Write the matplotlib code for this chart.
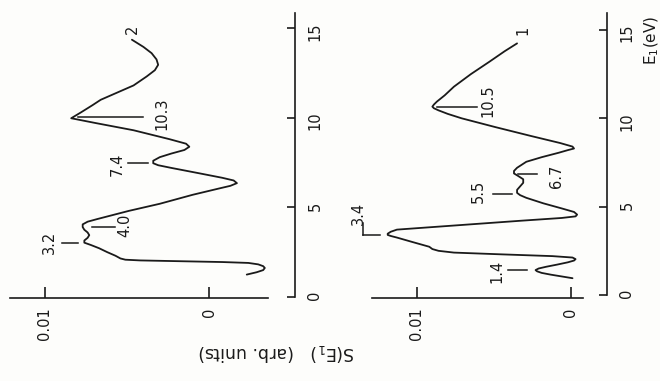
import numpy as np
import matplotlib
matplotlib.use("Agg")
import matplotlib.pyplot as plt

# The scanned figure is rotated 90 deg CCW: energy runs up the page,
# S(E1) runs to the left. Data are (E, S) pairs.

# curve 2 (left panel in the picture)
e_2 = [1.25, 1.38, 1.5, 1.62, 1.72, 1.82, 1.9, 1.95, 2.0, 2.04, 2.08, 2.15,
       2.3, 2.5, 2.72, 2.9, 3.03, 3.15, 3.3, 3.45, 3.6, 3.75, 3.9, 4.05,
       4.2, 4.35, 4.8, 5.2, 5.7, 6.05, 6.2, 6.35, 6.5, 6.65, 6.9, 7.2, 7.35,
       7.46, 7.6, 7.8, 8.0, 8.2, 8.38, 8.55, 8.8, 9.3, 9.7, 9.88, 9.97,
       10.08, 10.3, 10.7, 11.0, 11.8, 12.3, 12.65, 12.95, 13.25, 13.6,
       13.95, 14.35]
s_2 = [-0.0023, -0.0029, -0.0033, -0.0034, -0.0033, -0.0030, -0.0024,
       -0.0008, 0.0020, 0.0042, 0.0051, 0.0054, 0.0057, 0.0062, 0.0067,
       0.0072, 0.0076, 0.0076, 0.0074, 0.0073, 0.0074, 0.0076, 0.0077,
       0.0077, 0.0074, 0.0068, 0.0049, 0.0030, 0.0010, -0.0006, -0.0013,
       -0.0017, -0.0015, -0.0008, 0.0006, 0.0023, 0.0031, 0.0034, 0.0034,
       0.0030, 0.0023, 0.0015, 0.0012, 0.0014, 0.0024, 0.0046, 0.0069,
       0.0079, 0.0084, 0.0082, 0.0078, 0.0071, 0.0066, 0.0046, 0.0038,
       0.0033, 0.0031, 0.0032, 0.0035, 0.0040, 0.0047]

# curve 1 (right panel in the picture)
e_1 = [0.95, 1.05, 1.15, 1.25, 1.34, 1.41, 1.5, 1.6, 1.72, 1.85, 1.95,
       2.03, 2.12, 2.2, 2.3, 2.4, 2.5, 2.6, 2.73, 3.0, 3.25, 3.34, 3.4,
       3.47, 3.58, 3.7, 3.95, 4.2, 4.36, 4.45, 4.55, 4.7, 4.9, 5.19, 5.5,
       5.65, 5.78, 5.95, 6.15, 6.35, 6.55, 6.72, 6.88, 7.02, 7.2, 7.54,
       7.8, 8.05, 8.2, 8.29, 8.4, 8.6, 9.0, 9.5, 10.0, 10.25, 10.45, 10.57,
       10.66, 10.78, 10.95, 11.3, 11.79, 12.5, 13.2, 13.8, 14.24]
s_1 = [-0.0001, 0.0006, 0.0013, 0.0019, 0.0022, 0.0023, 0.0021, 0.0016,
       0.0009, 0.0002, -0.0002, -0.0003, -0.0001, 0.0012, 0.0045, 0.0076,
       0.0086, 0.0090, 0.0092, 0.0103, 0.0113, 0.0117, 0.0119, 0.0119,
       0.0117, 0.0113, 0.0073, 0.0033, 0.0006, -0.0003, -0.0004, -0.0002,
       0.0006, 0.0018, 0.0029, 0.0033, 0.0035, 0.0035, 0.0033, 0.0031,
       0.0031, 0.0034, 0.0037, 0.0037, 0.0035, 0.0029, 0.0019, 0.0008,
       0.0002, -0.0002, -0.0001, 0.0007, 0.0026, 0.0049, 0.0071, 0.0080,
       0.0086, 0.0089, 0.0090, 0.0089, 0.0087, 0.0082, 0.0076, 0.0065,
       0.0053, 0.0043, 0.0035]

# peak markers: label, energy of the marker, S extent of the marker line
peaks_2 = ["3.2", "4.0", "7.4", "10.3"]
peak_e_2 = [3.03, 3.89, 7.46, 10.02]
peak_s_2 = [(0.00896, 0.00799), (0.00713, 0.00573), (0.00494, 0.00372), (0.00799, 0.00402)]
label_pos_2 = [(0.0097, 3.07), (0.00512, 4.02), (0.00561, 7.42), (0.00287, 10.21)]

peaks_1 = ["1.4", "3.4", "5.5", "6.7", "10.5"]
peak_e_1 = [1.41, 3.40, 5.72, 6.85, 10.64]
peak_s_1 = [(0.00409, 0.00286), (0.0135, 0.0124), (0.00506, 0.00383), (0.00344, 0.00221), (0.0087, 0.0061)]
label_pos_1 = [(0.0048, 1.36), (0.01377, 4.64), (0.00604, 5.89), (0.00097, 6.73), (0.0054, 10.98)]

# the 3.4 label sits above its peak, joined by a short leader
leader_s_1 = 0.0135
leader_e_1 = (3.40, 4.07)

s_ticks = [0.01, 0]
s_ticklabels = ["0.01", "0"]
e_ticks = [0, 5, 10, 15]

INK = '#1a1a1a'
FS = 10.5


def style_axis(ax, xlim, ylim, s_bounds):
    ax.set_xlim(*xlim)
    ax.set_ylim(*ylim)
    ax.patch.set_alpha(0)
    ax.spines['top'].set_visible(False)
    ax.spines['left'].set_visible(False)
    for sp in ('bottom', 'right'):
        ax.spines[sp].set_color(INK)
        ax.spines[sp].set_linewidth(1.2)
    ax.spines['bottom'].set_bounds(*s_bounds)
    ax.spines['right'].set_bounds(0, ylim[1])
    ax.yaxis.tick_right()
    ax.set_xticks(s_ticks, s_ticklabels)
    ax.set_yticks(e_ticks, [str(t) for t in e_ticks])
    ax.tick_params(axis='x', direction='in', length=8, width=1.2, color=INK,
                   pad=7, labelsize=FS, labelcolor=INK, labelrotation=90)
    ax.tick_params(axis='y', direction='in', length=6, width=1.2, color=INK,
                   pad=9, labelsize=FS, labelcolor=INK, labelrotation=90)


def draw_panel(ax, e, s, peaks, peak_e, peak_s, label_pos, name, name_pos):
    ax.plot(s, e, color=INK, lw=1.3, solid_joinstyle='round',
            solid_capstyle='round')
    for lab, pe, (sa, sb), (tx, ty) in zip(peaks, peak_e, peak_s, label_pos):
        ax.plot([sa, sb], [pe, pe], color=INK, lw=1.1, clip_on=False)
        ax.text(tx, ty, lab, rotation=90, ha='center', va='center',
                fontsize=FS, color=INK)
    ax.text(name_pos[0], name_pos[1], name, rotation=90, ha='center',
            va='center', fontsize=FS, color=INK)


def main():
    fig = plt.figure(figsize=(6.6, 3.81), dpi=100)
    fig.patch.set_facecolor('#fdfdfb')
    W, H = 660.0, 381.0

    ax2 = fig.add_axes([10 / W, 83 / H, 285 / W, 285 / H])
    style_axis(ax2, (0.01213, -0.00524), (-0.056, 15.84), (-0.0036, 0.01213))
    draw_panel(ax2, e_2, s_2, peaks_2, peak_e_2, peak_s_2, label_pos_2,
               "2", (0.0047, 14.95))

    ax1 = fig.add_axes([372 / W, 83 / H, 235 / W, 285 / H])
    style_axis(ax1, (0.01292, -0.00234), (-0.17, 15.96), (-0.00078, 0.01292))
    draw_panel(ax1, e_1, s_1, peaks_1, peak_e_1, peak_s_1, label_pos_1,
               "1", (0.00312, 15.0))
    ax1.plot([leader_s_1, leader_s_1], leader_e_1, color=INK, lw=1.1,
             clip_on=False)

    fig.text(276 / W, 1 - 353 / H, r"S(E$_1$)   (arb. units)", rotation=180,
             ha='center', va='center', fontsize=12.5, color=INK)
    fig.text(652 / W, 1 - 40 / H, r"E$_1$(eV)", rotation=90,
             ha='center', va='center', fontsize=11, color=INK)

    fig.savefig("out.png", dpi=100, facecolor=fig.get_facecolor())


if __name__ == "__main__":
    main()
